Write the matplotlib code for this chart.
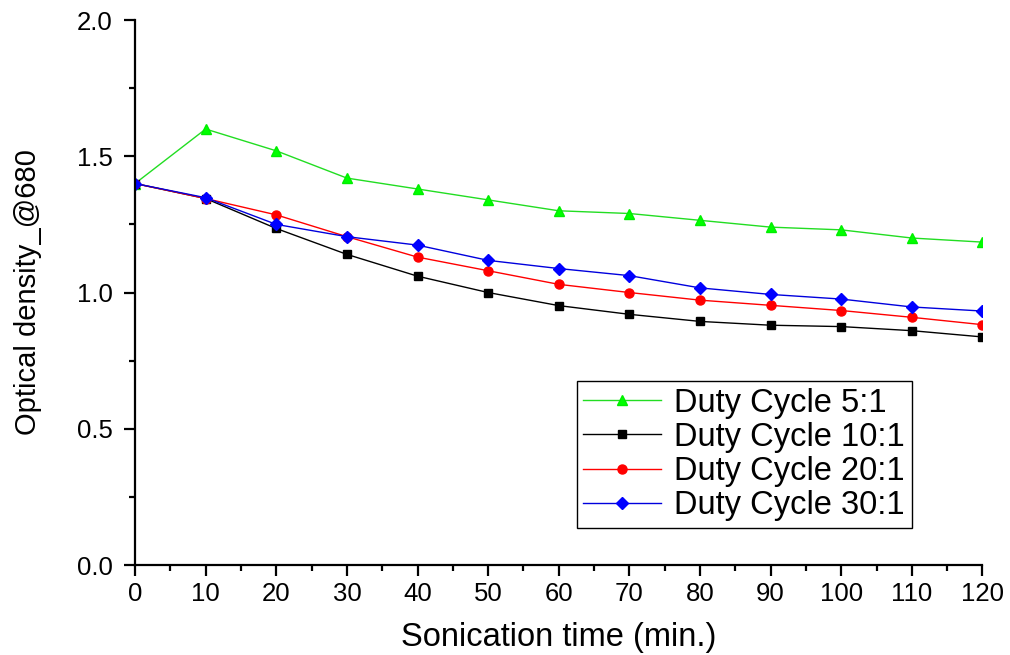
import matplotlib.pyplot as plt
from matplotlib.ticker import MultipleLocator

plt.rcParams['font.family'] = ['Liberation Sans', 'DejaVu Sans']

# Sonication time (min.)
time = [0, 10, 20, 30, 40, 50, 60, 70, 80, 90, 100, 110, 120]

# Optical density @680 for each duty cycle
duty_5 = [1.40, 1.60, 1.52, 1.42, 1.38, 1.34, 1.30, 1.29, 1.265, 1.24, 1.23, 1.20, 1.185]
duty_10 = [1.40, 1.345, 1.235, 1.14, 1.06, 1.00, 0.952, 0.92, 0.894, 0.88, 0.875, 0.86, 0.837]
duty_20 = [1.40, 1.345, 1.285, 1.205, 1.13, 1.08, 1.03, 1.00, 0.972, 0.953, 0.934, 0.909, 0.882]
duty_30 = [1.40, 1.348, 1.25, 1.205, 1.174, 1.118, 1.088, 1.062, 1.017, 0.993, 0.976, 0.947, 0.932]

labels = ["Duty Cycle 5:1", "Duty Cycle 10:1", "Duty Cycle 20:1", "Duty Cycle 30:1"]

fig = plt.figure(figsize=(10.1, 6.55), dpi=100)
ax = fig.add_axes([0.1337, 0.1374, 0.839, 0.832])

ax.plot(time, duty_5, color="#22dd22", marker="^", ms=7, mfc="#00ff00", mec="#00ee00", lw=1, label=labels[0])
ax.plot(time, duty_10, color="black", marker="s", ms=6, lw=1, label=labels[1])
ax.plot(time, duty_20, color="red", marker="o", ms=6.5, lw=1, label=labels[2])
ax.plot(time, duty_30, color="#0000dd", marker="D", ms=6.5, mfc="blue", mec="blue", lw=1, label=labels[3])

ax.set_xlim(0, 120)
ax.set_ylim(0, 2.0)
ax.xaxis.set_major_locator(MultipleLocator(10))
ax.xaxis.set_minor_locator(MultipleLocator(5))
ax.yaxis.set_major_locator(MultipleLocator(0.5))
ax.yaxis.set_minor_locator(MultipleLocator(0.25))

for side in ["top", "right"]:
    ax.spines[side].set_visible(False)
for side in ["left", "bottom"]:
    ax.spines[side].set_linewidth(1.6)

ax.tick_params(which="major", direction="out", length=8, width=1.6, labelsize=18.5)
ax.tick_params(which="minor", direction="out", length=4.5, width=1.6)
ax.tick_params(axis="x", pad=4)
ax.tick_params(axis="y", pad=8)

ax.set_xlabel("Sonication time (min.)", fontsize=23.5, labelpad=12)
ax.set_ylabel("Optical density_@680", fontsize=21, labelpad=25)

leg = ax.legend(loc="lower left", bbox_to_anchor=(0.521, 0.068), fontsize=23.5,
                frameon=True, fancybox=False, edgecolor="black", framealpha=1,
                handlelength=2.4, borderpad=0.2, labelspacing=0.1, handletextpad=0.4,
                borderaxespad=0)
leg.get_frame().set_linewidth(1.0)

fig.savefig("out.png", dpi=100)
